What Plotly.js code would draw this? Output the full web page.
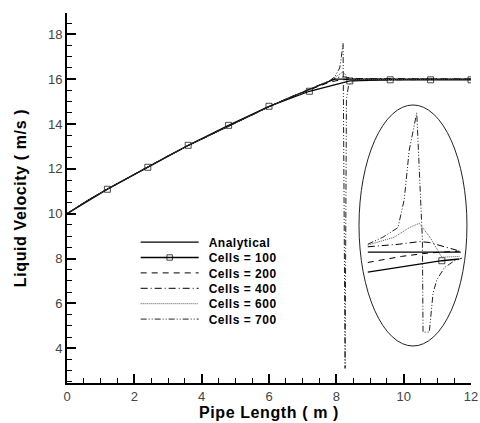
<!DOCTYPE html>
<html>
<head>
<meta charset="utf-8">
<script src="https://cdn.plot.ly/plotly-3.0.1.min.js"></script>
<style>
html,body{margin:0;padding:0;background:#fff;}
#chart{width:480px;height:423px;}
#chart .legendtext{letter-spacing:0.5px;}
#chart .xtitle,#chart .ytitle{letter-spacing:0.6px;}
</style>
</head>
<body>
<div id="chart"></div>
<script>
// ---- main view data ----
const analyticalX = [0, 0.6, 1.2, 1.8, 2.4, 3.0, 3.6, 4.2, 4.8, 5.4, 6.0, 6.6, 7.2, 7.8, 7.95, 12];
const analyticalV = [10, 10.58, 11.1, 11.6, 12.1, 12.57, 13.04, 13.48, 13.92, 14.35, 14.77, 15.17, 15.54, 15.9, 16.0, 16.0];

const cells100X = [0, 1.2, 2.4, 3.6, 4.8, 6.0, 7.2, 8.4, 9.6, 10.8, 12];
const cells100V = [10, 11.09, 12.07, 13.05, 13.94, 14.79, 15.46, 15.92, 15.97, 15.97, 15.97];
const cells100Mark = [false, true, true, true, true, true, true, true, true, true, true];

const cells200X = [0, 0.6, 1.2, 1.8, 2.4, 3.0, 3.6, 4.2, 4.8, 5.4, 6.0, 6.6, 7.2, 7.8, 8.1, 8.4, 12];
const cells200V = [10, 10.58, 11.1, 11.6, 12.1, 12.57, 13.04, 13.48, 13.92, 14.35, 14.77, 15.17, 15.53, 15.87, 15.96, 16.0, 16.0];

const cells400X = [0, 0.6, 1.2, 1.8, 2.4, 3.0, 3.6, 4.2, 4.8, 5.4, 6.0, 6.6, 7.2, 7.8, 8.05, 8.25, 8.5, 12];
const cells400V = [10, 10.58, 11.1, 11.6, 12.1, 12.57, 13.04, 13.48, 13.92, 14.35, 14.77, 15.17, 15.54, 15.9, 16.08, 16.1, 16.02, 16.0];

const cells600X = [0, 0.6, 1.2, 1.8, 2.4, 3.0, 3.6, 4.2, 4.8, 5.4, 6.0, 6.6, 7.2, 7.8, 8.0, 8.2, 8.32, 8.4, 8.55, 12];
const cells600V = [10, 10.58, 11.1, 11.6, 12.1, 12.57, 13.04, 13.48, 13.92, 14.35, 14.77, 15.17, 15.54, 15.93, 16.12, 16.33, 16.1, 15.95, 15.98, 16.0];

const cells700X = [0, 0.6, 1.2, 1.8, 2.4, 3.0, 3.6, 4.2, 4.8, 5.4, 6.0, 6.6, 7.2, 7.8, 7.95, 8.1, 8.15, 8.2, 8.26, 8.3, 8.36, 8.45, 8.6, 12];
const cells700V = [10, 10.58, 11.1, 11.6, 12.1, 12.57, 13.04, 13.48, 13.92, 14.35, 14.77, 15.17, 15.54, 15.93, 16.1, 16.5, 17.0, 17.6, 3.1, 15.1, 15.7, 15.87, 15.95, 16.0];

// ---- magnified inset data (x in m, velocity in m/s) ----
const inAnalyticalX = [7.81, 8.55];
const inAnalyticalV = [16.0, 16.0];
const inCells100X = [7.81, 8.08, 8.25, 8.40, 8.54];
const inCells100V = [15.77, 15.83, 15.86, 15.90, 15.92];
const inCells100Mark = [false, false, false, true, false];
const inCells200X = [7.81, 8.08, 8.30, 8.54];
const inCells200V = [15.88, 15.95, 15.99, 16.01];
const inCells400X = [7.81, 8.06, 8.22, 8.30, 8.52];
const inCells400V = [16.06, 16.09, 16.12, 16.11, 16.02];
const inCells600X = [7.81, 8.02, 8.14, 8.22, 8.31, 8.40, 8.54];
const inCells600V = [16.08, 16.17, 16.28, 16.33, 16.16, 15.94, 15.95];
const inCells700X = [7.81, 7.93, 8.05, 8.10, 8.14, 8.20, 8.245, 8.25, 8.30, 8.33, 8.36, 8.42, 8.50, 8.56];
const inCells700V = [16.09, 16.17, 16.28, 16.60, 17.17, 17.60, 16.14, 15.08, 15.08, 15.53, 15.68, 15.82, 15.90, 15.93];

const seriesNames = ['Analytical', 'Cells = 100', 'Cells = 200', 'Cells = 400', 'Cells = 600', 'Cells = 700'];
const xTickVals = [0, 2, 4, 6, 8, 10, 12];
const yTickVals = [4, 6, 8, 10, 12, 14, 16, 18];

// ---- styles ----
const styles = [
  {color: '#000', width: 1.3, dash: 'solid'},
  {color: '#000', width: 1.3, dash: 'solid'},
  {color: '#000', width: 1, dash: '6px,5px'},
  {color: '#000', width: 1, dash: '7px,3px,1px,3px'},
  {color: '#555', width: 1, dash: '1px,1px'},
  {color: '#222', width: 1, dash: '6px,2px,1px,2px,1px,2px'}
];

// inset placement (plot-area fractions)
const insetX = [0.7228, 0.990];
const insetY = [0.100, 0.7514];

const mainData = [
  [analyticalX, analyticalV, null],
  [cells100X, cells100V, cells100Mark],
  [cells200X, cells200V, null],
  [cells400X, cells400V, null],
  [cells600X, cells600V, null],
  [cells700X, cells700V, null]
];
const insetData = [
  [inAnalyticalX, inAnalyticalV, null],
  [inCells100X, inCells100V, inCells100Mark],
  [inCells200X, inCells200V, null],
  [inCells400X, inCells400V, null],
  [inCells600X, inCells600V, null],
  [inCells700X, inCells700V, null]
];

function mk(d, i, main) {
  const t = {
    x: d[0], y: d[1], type: 'scatter', name: seriesNames[i],
    mode: d[2] ? 'lines+markers' : 'lines',
    line: {color: styles[i].color, width: styles[i].width, dash: styles[i].dash},
    showlegend: main, hoverinfo: 'skip'
  };
  if (d[2]) {
    t.marker = {symbol: 'square-open', color: '#000', line: {width: 1, color: '#000'},
                size: d[2].map(m => m ? 6 : 0)};
  }
  if (!main) { t.xaxis = 'x2'; t.yaxis = 'y2'; }
  return t;
}

const traces = [];
mainData.forEach((d, i) => traces.push(mk(d, i, true)));
insetData.forEach((d, i) => traces.push(mk(d, i, false)));

const FONT = 'Liberation Sans, Arial, sans-serif';

const layout = {
  width: 480, height: 423,
  margin: {l: 67, r: 9, t: 13, b: 40, pad: 0},
  paper_bgcolor: '#fff', plot_bgcolor: 'rgba(0,0,0,0)',
  font: {family: FONT, color: '#000', size: 13},
  showlegend: true,
  xaxis: {
    range: [0, 12], showline: true, linewidth: 2, linecolor: '#000',
    ticks: 'inside', ticklen: 9, tickwidth: 2, tickcolor: '#000',
    tickmode: 'array', tickvals: xTickVals, ticktext: xTickVals.map(String),
    minor: {ticks: 'inside', ticklen: 5, tickwidth: 1, tickcolor: '#000', dtick: 0.5},
    showgrid: false, zeroline: false,
    tickfont: {family: FONT, size: 13, color: '#444'},
    title: {text: 'Pipe Length ( m )', font: {family: FONT, size: 16, weight: 'bold', color: '#000'}, standoff: 4}
  },
  yaxis: {
    range: [2.45, 18.95], showline: true, linewidth: 2, linecolor: '#000',
    ticks: 'inside', ticklen: 9, tickwidth: 2, tickcolor: '#000',
    tickmode: 'array', tickvals: yTickVals, ticktext: yTickVals.map(String),
    minor: {ticks: 'inside', ticklen: 5, tickwidth: 1, tickcolor: '#000', dtick: 0.5},
    showgrid: false, zeroline: false,
    tickfont: {family: FONT, size: 13, color: '#444'},
    title: {text: 'Liquid Velocity ( m/s )', font: {family: FONT, size: 16, weight: 'bold', color: '#000'}, standoff: 17}
  },
  xaxis2: {domain: insetX, range: [7.74, 8.6], visible: false, anchor: 'y2', fixedrange: true},
  yaxis2: {domain: insetY, range: [14.92, 17.69], visible: false, anchor: 'x2', fixedrange: true},
  shapes: [
    {type: 'circle', xref: 'paper', yref: 'paper', x0: insetX[0], x1: insetX[1], y0: insetY[0], y1: insetY[1],
     line: {color: '#222', width: 1}, fillcolor: 'rgba(0,0,0,0)', layer: 'above'}
  ],
  legend: {
    x: 0.17, y: 0.42, xanchor: 'left', yanchor: 'top',
    bgcolor: 'rgba(0,0,0,0)', borderwidth: 0,
    font: {family: FONT, size: 12, weight: 'bold', color: '#000'},
    itemwidth: 58, tracegroupgap: 0
  }
};

// legend row pitch of the reference (tighter than Plotly's minimum)
const LEGEND_PITCH = 15.4;
const LEGEND_TEXT_SHIFT = 5;

Plotly.newPlot('chart', traces, layout, {staticPlot: true, displayModeBar: false}).then(gd => {
  gd.querySelectorAll('.legend [clip-path]').forEach(e => e.removeAttribute('clip-path'));
  const items = gd.querySelectorAll('.legend .traces');
  let base = null;
  items.forEach((g, i) => {
    const m = /translate\(\s*([-\d.]+)[ ,]+([-\d.]+)\s*\)/.exec(g.getAttribute('transform') || '');
    if (!m) return;
    const x = parseFloat(m[1]);
    const y = parseFloat(m[2]);
    if (base === null) base = y;
    g.setAttribute('transform', 'translate(' + x + ',' + (base + i * LEGEND_PITCH) + ')');
    const tx = g.querySelector('.legendtext');
    if (tx) {
      const cx = parseFloat(tx.getAttribute('x') || '0');
      tx.setAttribute('x', cx + LEGEND_TEXT_SHIFT);
    }
  });
});
</script>
</body>
</html>
